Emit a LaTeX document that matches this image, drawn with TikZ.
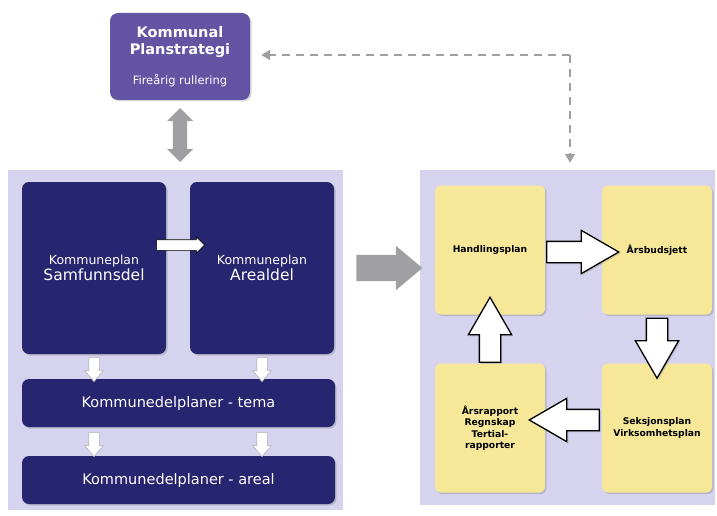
\documentclass[tikz,border=0pt]{standalone}
\usepackage{fontspec}
\setmainfont{DejaVu Sans}
\usepackage{tikz}
\usetikzlibrary{calc}
\usetikzlibrary{shapes.arrows}
\usetikzlibrary{shadows}
\usetikzlibrary{arrows.meta}
\definecolor{panelblue}{RGB}{213,211,238}
\definecolor{darknavy}{RGB}{40,37,112}
\definecolor{strategypurple}{RGB}{98,84,163}
\definecolor{lightyellow}{RGB}{246,232,152}
\definecolor{arrowgrey}{RGB}{160,160,162}
\newcommand{\widthplan}{144pt}
\newcommand{\heightplan}{172pt}
\newcommand{\widthbar}{313pt}
\newcommand{\widthcycle}{110pt}
\newcommand{\heightcycle}{129pt}
\tikzset{
    common/.style={rectangle, rounded corners=7pt, align=center, inner sep=0pt},
    panel/.style={common, rounded corners=0pt, fill=panelblue},
    navy/.style={common, fill=darknavy, text=white, drop shadow={opacity=0.35, shadow xshift=1.5pt, shadow yshift=-1.5pt}},
    plan/.style={navy, minimum width=\widthplan, minimum height=\heightplan},
    bar/.style={navy, minimum width=\widthbar, minimum height=48pt, font=\fontsize{14.5}{16}\selectfont},
    cycle/.style={common, rounded corners=6pt, fill=lightyellow, minimum width=\widthcycle, minimum height=\heightcycle,
        font=\bfseries\fontsize{9.2}{11.5}\selectfont, drop shadow={opacity=0.35, shadow xshift=1.5pt, shadow yshift=-1.5pt}},
    bigblock/.style={single arrow, draw=black, line width=1.3pt, fill=white, inner xsep=0pt, inner ysep=10pt, minimum width=0pt,
        single arrow head extend=11pt, single arrow tip angle=60, drop shadow={opacity=0.3, shadow xshift=1.5pt, shadow yshift=-1.5pt}},
    smallblock/.style={single arrow, draw=gray!60, line width=0.6pt, fill=white, inner xsep=0pt, inner ysep=5pt, minimum width=0pt,
        single arrow head extend=4pt, single arrow tip angle=80, minimum height=24pt},
    greyblock/.style={fill=arrowgrey, inner xsep=0pt, minimum width=0pt},
    feedback/.style={arrowgrey, line width=2pt, dash pattern=on 8pt off 6pt, -{Triangle[length=9pt, width=10pt]}}
}

\begin{document}
\begin{tikzpicture}[x=1pt, y=-1pt]
    \useasboundingbox (0,0) rectangle (717,516);

    % panels
    \node[panel, minimum width=335pt, minimum height=340pt] (planpanel) at (175.5,340) {};
    \node[panel, minimum width=295pt, minimum height=335pt] (cyclepanel) at (567.5,337.5) {};

    % planstrategi
    \node[common, rounded corners=8pt, fill=strategypurple, text=white, minimum width=140pt, minimum height=87pt,
        font=\bfseries\fontsize{14.5}{17}\selectfont, drop shadow={opacity=0.3, shadow xshift=1.5pt, shadow yshift=-1.5pt}]
        (strategi) at (180,56.5) {Kommunal\\Planstrategi\\[13pt]\mdseries\fontsize{11.5}{13}\selectfont Fireårig rullering};

    % kommuneplan
    \path
        node[plan] (samfunn) at (94,268) {\fontsize{12.5}{16}\selectfont Kommuneplan\\\fontsize{15.5}{18}\selectfont Samfunnsdel}
        node[plan] (arealdel) at (262,268) {\fontsize{12.5}{16}\selectfont Kommuneplan\\\fontsize{15.5}{18}\selectfont Arealdel}
        node[bar] (tema) at (178.5,403) {Kommunedelplaner - tema}
        node[bar] (areal) at (178.5,480) {Kommunedelplaner - areal};

    % budsjettsyklus
    \path
        node[cycle] (handling) at (490,250) {Handlingsplan}
        node[cycle] (budsjett) at (657,250) {Årsbudsjett}
        node[cycle] (seksjon) at (657,428) {Seksjonsplan\\Virksomhetsplan}
        node[cycle] (rapport) at (490,428) {Årsrapport\\Regnskap\\Tertial-\\rapporter};

    % arrows
    \node[greyblock, double arrow, inner ysep=7pt, double arrow head extend=6pt, minimum height=54pt, rotate=90]
        (strategilink) at ($(strategi.south)!0.5!(strategi.south |- planpanel.north)$) {};
    \node[greyblock, single arrow, inner ysep=13pt, single arrow head extend=9pt, single arrow tip angle=80, minimum height=66pt]
        (panellink) at ($(planpanel.east |- arealdel)!0.5!(cyclepanel.west |- arealdel)$) {};

    \node[smallblock, draw=black, minimum height=48pt, single arrow head extend=3pt, single arrow tip angle=90]
        (planlink) at ($(samfunn.east)!0.5!(arealdel.west) + (0,-23)$) {};
    \node[smallblock, rotate=-90] (down1) at ($(samfunn.south)!0.5!(samfunn.south |- tema.north)$) {};
    \node[smallblock, rotate=-90] (down2) at ($(arealdel.south)!0.5!(arealdel.south |- tema.north)$) {};
    \node[smallblock, rotate=-90] (down3) at ($(tema.south -| samfunn)!0.5!(areal.north -| samfunn)$) {};
    \node[smallblock, rotate=-90] (down4) at ($(tema.south -| arealdel)!0.5!(areal.north -| arealdel)$) {};

    \node[bigblock, minimum height=72pt] (step1) at ($(handling.east)!0.5!(budsjett.west) + (0,2)$) {};
    \node[bigblock, minimum height=60pt, rotate=-90] (step2) at ($(budsjett.south)!0.5!(seksjon.north)$) {};
    \node[bigblock, minimum height=70pt, rotate=180] (step3) at ($(seksjon.west)!0.5!(rapport.east) + (0,-8)$) {};
    \node[bigblock, minimum height=65pt, rotate=90] (step4) at ($(rapport.north)!0.5!(handling.south)$) {};

    % feedback
    \coordinate (corner) at (570,55);
    \draw[feedback, shorten >=11pt] (corner) -- (strategi.east |- corner);
    \draw[feedback, shorten >=7pt] (corner) -- (corner |- cyclepanel.north);
\end{tikzpicture}
\end{document}
